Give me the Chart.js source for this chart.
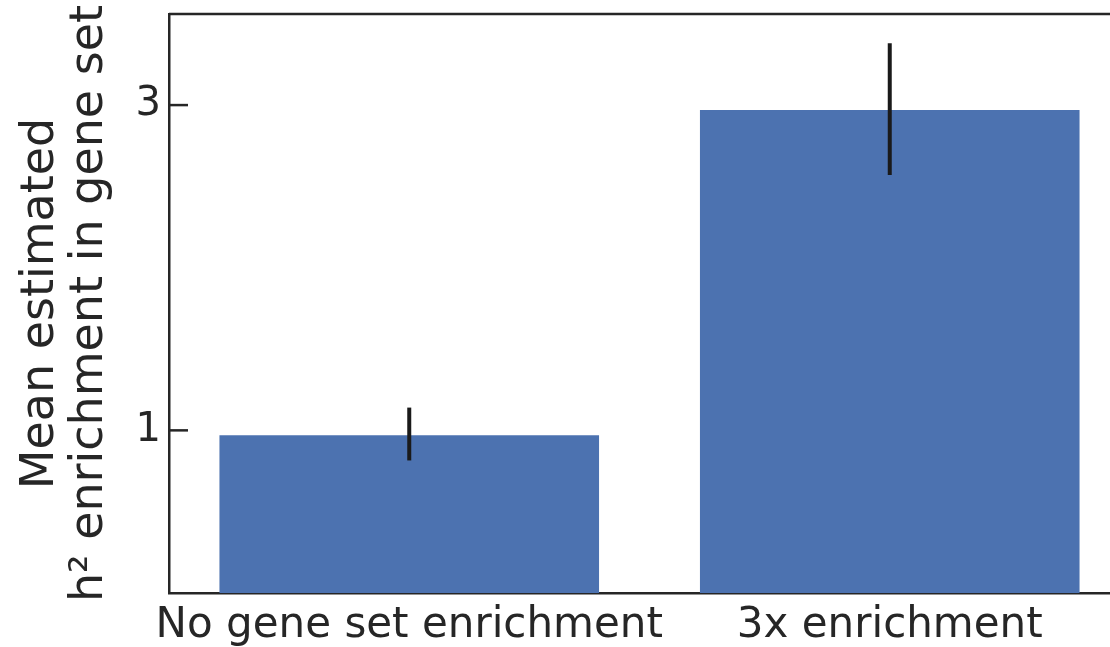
<!DOCTYPE html>
<html>
<head>
<meta charset="utf-8">
<script src="https://cdn.jsdelivr.net/npm/chart.js@4.4.1/dist/chart.umd.min.js"></script>
<style>
  html, body { margin: 0; padding: 0; background: #ffffff; overflow: hidden; }
  #wrap { width: 1140px; height: 647px; }
</style>
</head>
<body>
<div id="wrap"><canvas id="c" width="1140" height="647"></canvas></div>
<script>
// ---- data ----
const categories = ["No gene set enrichment", "3x enrichment"];
const meanEnrichment = [0.97, 2.97];
const errLow = [0.815, 2.57];
const errHigh = [1.14, 3.38];
const yTickValues = [1, 3];
const yMin = 0;
const yMax = 3.56;
const yTitle = ["Mean estimated", "h\u00B2 enrichment in gene set"];

const inkColor = "#262626";
const barColor = "#4C72B0";

const errorBarPlugin = {
  id: "errorBars",
  afterDatasetsDraw(chart) {
    const ctx = chart.ctx;
    const meta = chart.getDatasetMeta(0);
    const ys = chart.scales.y;
    ctx.save();
    ctx.strokeStyle = "#1a1a1a";
    ctx.lineWidth = 4;
    ctx.lineCap = "butt";
    meta.data.forEach((bar, i) => {
      ctx.beginPath();
      ctx.moveTo(bar.x, ys.getPixelForValue(errHigh[i]));
      ctx.lineTo(bar.x, ys.getPixelForValue(errLow[i]));
      ctx.stroke();
    });
    ctx.restore();
  }
};

const framePlugin = {
  id: "frame",
  afterDraw(chart) {
    const ctx = chart.ctx;
    const a = chart.chartArea;
    const ys = chart.scales.y;
    ctx.save();
    ctx.strokeStyle = inkColor;
    ctx.lineWidth = 2.5;
    // top spine
    ctx.beginPath();
    ctx.moveTo(a.left, a.top);
    ctx.lineTo(a.right, a.top);
    ctx.stroke();
    // inward y ticks
    ys.ticks.forEach(t => {
      const y = ys.getPixelForValue(t.value);
      ctx.beginPath();
      ctx.moveTo(a.left, y);
      ctx.lineTo(a.left + 19, y);
      ctx.stroke();
    });
    ctx.restore();
  }
};

new Chart(document.getElementById("c"), {
  type: "bar",
  data: {
    labels: categories,
    datasets: [{
      data: meanEnrichment,
      backgroundColor: barColor,
      borderWidth: 0,
      barPercentage: 0.79,
      categoryPercentage: 1.0
    }]
  },
  options: {
    responsive: false,
    animation: false,
    devicePixelRatio: 1,
    layout: { padding: { top: 14, right: 10, left: 0, bottom: 0 } },
    plugins: { legend: { display: false }, tooltip: { enabled: false } },
    scales: {
      x: {
        offset: true,
        grid: { display: false, drawTicks: false },
        border: { display: true, color: inkColor, width: 2.5 },
        ticks: {
          color: inkColor,
          font: { family: "DejaVu Sans", size: 42 },
          padding: 8,
          maxRotation: 0,
          autoSkip: false
        },
        afterFit(s) { s.height = 54; s.paddingLeft = 0; s.paddingRight = 0; }
      },
      y: {
        min: yMin,
        max: yMax,
        afterBuildTicks(s) { s.ticks = yTickValues.map(v => ({ value: v })); },
        grid: { display: false, drawTicks: false },
        border: { display: true, color: inkColor, width: 2.5 },
        ticks: {
          color: inkColor,
          font: { family: "DejaVu Sans", size: 40 },
          padding: 8
        },
        title: {
          display: true,
          text: yTitle,
          color: inkColor,
          font: { family: "DejaVu Sans", size: 46, lineHeight: 1.07 },
          padding: { top: 16, bottom: 0 }
        },
        afterFit(s) { s.width = 169; s.paddingTop = 0; s.paddingBottom = 0; }
      }
    }
  },
  plugins: [errorBarPlugin, framePlugin]
});
</script>
</body>
</html>
